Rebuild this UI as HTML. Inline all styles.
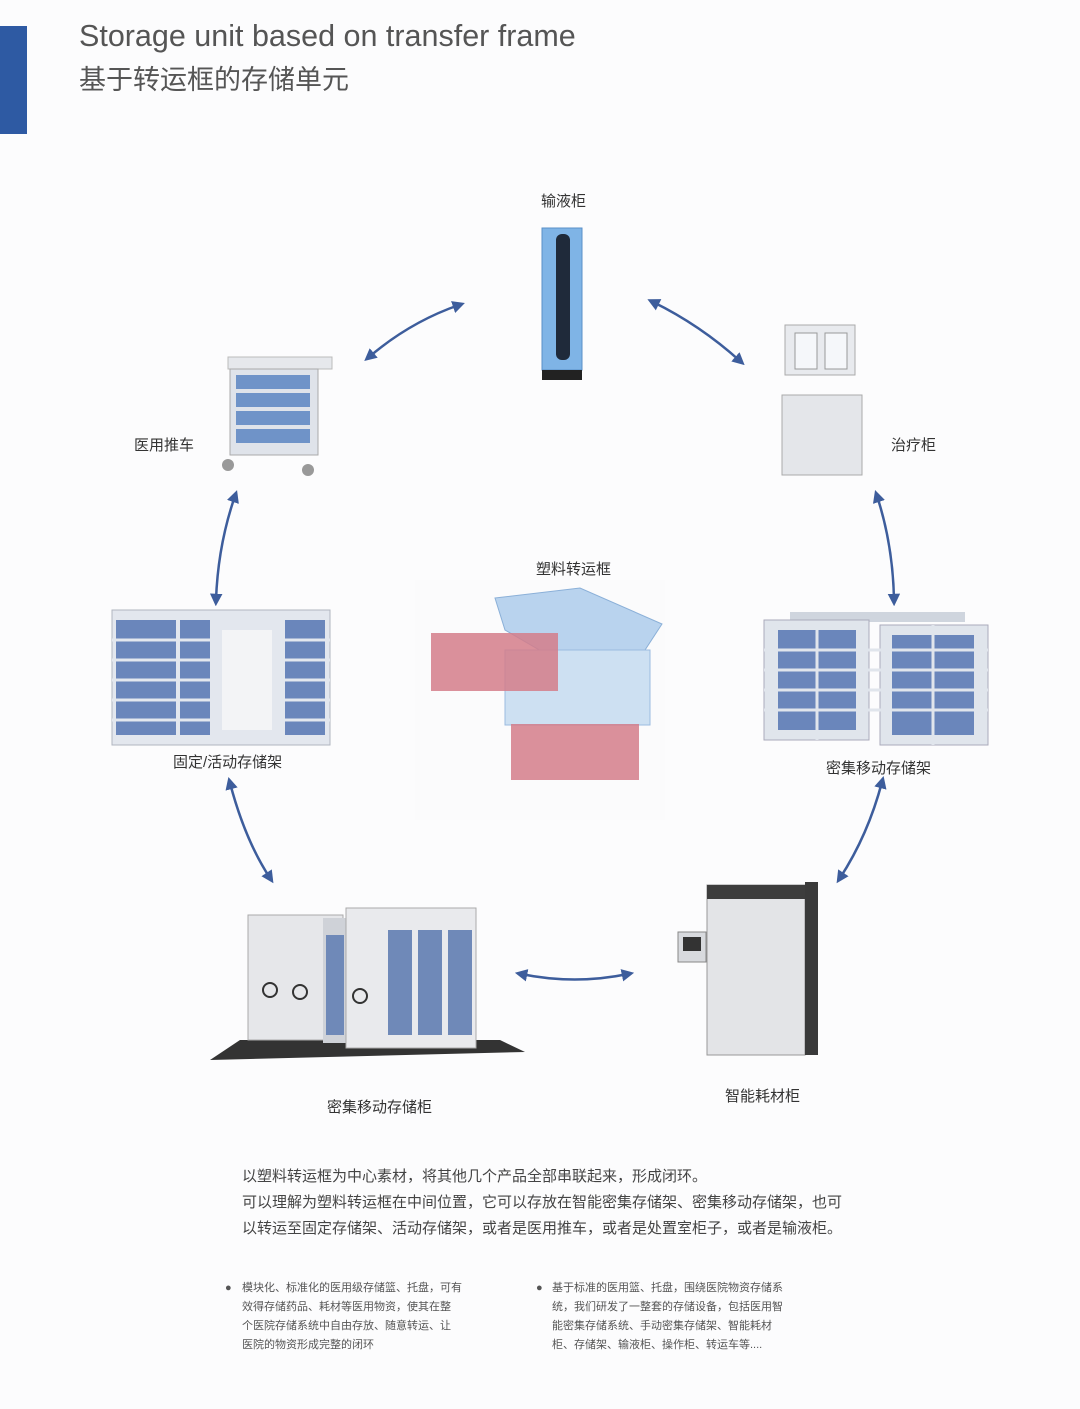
<!DOCTYPE html>
<html><head><meta charset="utf-8"><style>
body{margin:0;width:1080px;height:1409px;background:#fcfcfd;position:relative;overflow:hidden;font-family:"Liberation Sans","Noto Sans CJK SC",sans-serif;color:#444}
.a{position:absolute}
.lbl{position:absolute;font-size:15px;color:#333;white-space:nowrap}
.p{font-size:15px;color:#444;line-height:26px}
.s{font-size:11px;color:#555;line-height:19px}
</style></head><body>
<div class="a" style="left:0;top:26px;width:27px;height:108px;background:#2e5aa3"></div>
<div class="a" style="left:79px;top:19px;font-size:30.5px;color:#555">Storage unit based on transfer frame</div>
<div class="a" style="left:79px;top:58px;font-size:27px;color:#555">基于转运框的存储单元</div>

<svg class="a" style="left:0;top:0" width="1080" height="1409">
<defs><marker id="m" viewBox="0 0 10 10" refX="5" refY="5" markerWidth="5" markerHeight="5" orient="auto-start-reverse"><path d="M0,0L10,5L0,10z" fill="#3d5d9c"/></marker></defs>
<g stroke="#3d5d9c" stroke-width="2.5" fill="none" marker-start="url(#m)" marker-end="url(#m)">
<path d="M369,357Q410,322 459,305"/>
<path d="M653,302Q700,325 740,361"/>
<path d="M235,496Q218,545 216,600"/>
<path d="M877,496Q893,545 894,600"/>
<path d="M230,783Q245,840 270,878"/>
<path d="M882,782Q868,835 840,878"/>
<path d="M521,974Q575,985 628,974"/>
</g>
<!-- infusion cabinet -->
<rect x="542" y="228" width="40" height="142" fill="#7fb4e6" stroke="#5a8fc8"/>
<rect x="556" y="234" width="14" height="126" rx="6" fill="#1f2a3a"/>
<rect x="542" y="370" width="40" height="10" fill="#222"/>
<!-- cart -->
<rect x="228" y="357" width="104" height="12" fill="#e6e8ec" stroke="#bbb"/>
<rect x="230" y="369" width="88" height="86" fill="#dfe3ea" stroke="#aaa"/>
<g fill="#6f93c8"><rect x="236" y="375" width="74" height="14"/><rect x="236" y="393" width="74" height="14"/><rect x="236" y="411" width="74" height="14"/><rect x="236" y="429" width="74" height="14"/></g>
<circle cx="228" cy="465" r="6" fill="#999"/><circle cx="308" cy="470" r="6" fill="#999"/>
<!-- treatment cabinet -->
<rect x="785" y="325" width="70" height="50" fill="#e8eaee" stroke="#aaa"/>
<rect x="795" y="333" width="22" height="36" fill="#f5f7fa" stroke="#999"/><rect x="825" y="333" width="22" height="36" fill="#f5f7fa" stroke="#999"/>
<rect x="782" y="395" width="80" height="80" fill="#e4e6ea" stroke="#aaa"/>
<!-- fixed shelf -->
<rect x="112" y="610" width="218" height="135" fill="#e3e7ee" stroke="#b0b6c0"/>
<g fill="#6a86bb"><rect x="116" y="620" width="60" height="115"/><rect x="180" y="620" width="30" height="115"/><rect x="285" y="620" width="40" height="115"/></g>
<g stroke="#e3e7ee" stroke-width="3"><line x1="112" y1="640" x2="330" y2="640"/><line x1="112" y1="660" x2="330" y2="660"/><line x1="112" y1="680" x2="330" y2="680"/><line x1="112" y1="700" x2="330" y2="700"/><line x1="112" y1="720" x2="330" y2="720"/></g>
<rect x="222" y="630" width="50" height="100" fill="#f3f4f6"/>
<!-- center basket -->
<rect x="415" y="580" width="250" height="240" fill="#fbfbfc"/>
<path d="M495,598L580,588L662,624L645,650L560,662L505,630Z" fill="#b9d3ee" stroke="#8bb0d8"/>
<rect x="505" y="650" width="145" height="75" fill="#cde0f2" stroke="#9bbbe0"/>
<rect x="431" y="633" width="127" height="58" fill="#d47c8a" opacity=".85"/>
<rect x="511" y="724" width="128" height="56" fill="#d47c8a" opacity=".85"/>
<!-- dense shelf right -->
<rect x="790" y="612" width="175" height="10" fill="#cfd5de"/>
<rect x="764" y="620" width="105" height="120" fill="#e0e5ec" stroke="#aab"/>
<rect x="880" y="625" width="108" height="120" fill="#e0e5ec" stroke="#aab"/>
<g fill="#6a86bb"><rect x="778" y="630" width="78" height="100"/><rect x="892" y="635" width="82" height="100"/></g>
<g stroke="#e0e5ec" stroke-width="3"><line x1="764" y1="650" x2="988" y2="650"/><line x1="764" y1="670" x2="988" y2="670"/><line x1="764" y1="690" x2="988" y2="690"/><line x1="764" y1="710" x2="988" y2="710"/><line x1="817" y1="625" x2="817" y2="740"/><line x1="933" y1="625" x2="933" y2="745"/></g>
<!-- dense cabinet -->
<path d="M210,1060L525,1052L500,1040L240,1040Z" fill="#333"/>
<rect x="248" y="915" width="95" height="125" fill="#e6e7ea" stroke="#aaa"/>
<rect x="323" y="918" width="25" height="125" fill="#cfd2d8"/>
<rect x="346" y="908" width="130" height="140" fill="#e9eaed" stroke="#aaa"/>
<g fill="#6f89b8"><rect x="388" y="930" width="24" height="105"/><rect x="418" y="930" width="24" height="105"/><rect x="448" y="930" width="24" height="105"/><rect x="326" y="935" width="18" height="100"/></g>
<circle cx="270" cy="990" r="7" fill="none" stroke="#333" stroke-width="2"/><circle cx="300" cy="992" r="7" fill="none" stroke="#333" stroke-width="2"/><circle cx="360" cy="996" r="7" fill="none" stroke="#333" stroke-width="2"/>
<!-- smart cabinet -->
<rect x="707" y="885" width="98" height="170" fill="#e3e4e7" stroke="#999"/>
<rect x="805" y="882" width="13" height="173" fill="#3a3a3a"/>
<rect x="707" y="885" width="98" height="14" fill="#3d3d3d"/>
<rect x="678" y="932" width="28" height="30" fill="#d8dade" stroke="#888"/><rect x="683" y="937" width="18" height="14" fill="#333"/>
</svg>

<div class="lbl" style="left:541px;top:190px">输液柜</div>
<div class="lbl" style="left:134px;top:434px">医用推车</div>
<div class="lbl" style="left:891px;top:434px">治疗柜</div>
<div class="lbl" style="left:536px;top:558px">塑料转运框</div>
<div class="lbl" style="left:173px;top:751px">固定/活动存储架</div>
<div class="lbl" style="left:826px;top:757px">密集移动存储架</div>
<div class="lbl" style="left:327px;top:1096px">密集移动存储柜</div>
<div class="lbl" style="left:725px;top:1085px">智能耗材柜</div>

<div class="a p" style="left:242px;top:1164px;width:640px">以塑料转运框为中心素材，将其他几个产品全部串联起来，形成闭环。<br>可以理解为塑料转运框在中间位置，它可以存放在智能密集存储架、密集移动存储架，也可<br>以转运至固定存储架、活动存储架，或者是医用推车，或者是处置室柜子，或者是输液柜。</div>

<div class="a s" style="left:225px;top:1279px">●</div>
<div class="a s" style="left:242px;top:1279px;width:240px">模块化、标准化的医用级存储篮、托盘，可有<br>效得存储药品、耗材等医用物资，使其在整<br>个医院存储系统中自由存放、随意转运、让<br>医院的物资形成完整的闭环</div>
<div class="a s" style="left:536px;top:1279px">●</div>
<div class="a s" style="left:552px;top:1279px;width:250px">基于标准的医用篮、托盘，围绕医院物资存储系<br>统，我们研发了一整套的存储设备，包括医用智<br>能密集存储系统、手动密集存储架、智能耗材<br>柜、存储架、输液柜、操作柜、转运车等....</div>
</body></html>
